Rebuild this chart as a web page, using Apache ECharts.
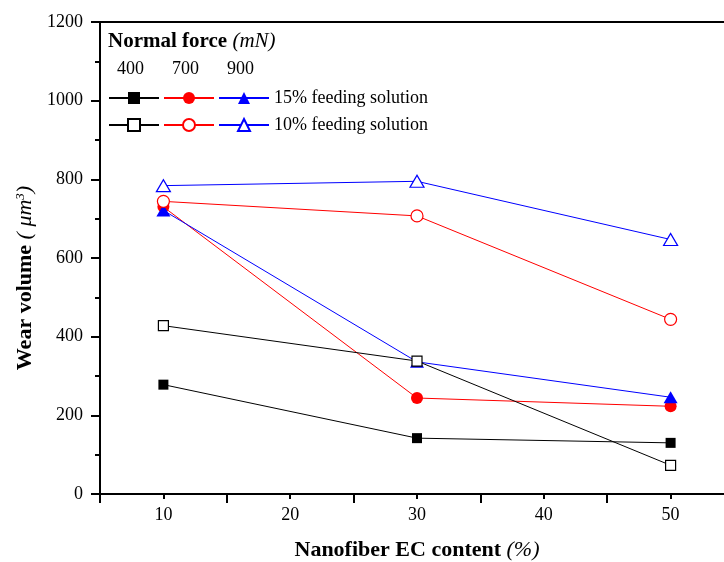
<!DOCTYPE html>
<html>
<head>
<meta charset="utf-8">
<title>Wear volume vs nanofiber EC content</title>
<script src="https://cdn.jsdelivr.net/npm/echarts@6/dist/echarts.min.js"></script>
<style>
  html, body { margin: 0; padding: 0; background: #fff; }
  #chart { width: 724px; height: 562px; }
</style>
</head>
<body>
<div id="chart"></div>
<script>
// Nanofiber EC content (%)
const ecContent = [10, 30, 50];

// Wear volume (µm³), 15% feeding solution
const wear400_15 = [278, 142, 130];
const wear700_15 = [730, 244, 223];
const wear900_15 = [721, 336, 246];

// Wear volume (µm³), 10% feeding solution
const wear400_10 = [428, 338, 73];
const wear700_10 = [744, 707, 444];
const wear900_10 = [784, 795, 647];

const forceLabels = ['400', '700', '900'];
const feedLabels = ['15% feeding solution', '10% feeding solution'];
const xTickValues = [10, 20, 30, 40, 50];

const FONT = '"Liberation Serif", "Times New Roman", serif';

function pairs(ys) {
  return ecContent.map((x, i) => [x, ys[i]]);
}

function makeSeries(name, ys, color, symbol, size, open) {
  return {
    name: name,
    type: 'line',
    data: pairs(ys),
    symbol: symbol,
    symbolSize: size,
    showSymbol: true,
    lineStyle: { color: color, width: 1 },
    itemStyle: open
      ? { color: '#ffffff', borderColor: color, borderWidth: 1.2 }
      : { color: color, borderColor: color, borderWidth: 0 },
    emphasis: { disabled: true },
    animation: false
  };
}

const seriesList = [
  makeSeries('400 mN / 15%', wear400_15, '#000000', 'rect', 10, false),
  makeSeries('700 mN / 15%', wear700_15, '#ff0000', 'circle', 12, false),
  makeSeries('900 mN / 15%', wear900_15, '#0000ff', 'triangle', [14, 12], false),
  makeSeries('400 mN / 10%', wear400_10, '#000000', 'rect', 10, true),
  makeSeries('700 mN / 10%', wear700_10, '#ff0000', 'circle', 12, true),
  makeSeries('900 mN / 10%', wear900_10, '#0000ff', 'triangle', [14, 12], true)
];

const legendText = {
  '900 mN / 15%': feedLabels[0],
  '900 mN / 10%': feedLabels[1]
};

function legendRow(names, top) {
  return {
    data: names,
    left: 108,
    top: top,
    orient: 'horizontal',
    itemWidth: 50,
    itemHeight: 15,
    itemGap: 3,
    padding: 0,
    selectedMode: false,
    formatter: n => legendText[n] || '',
    textStyle: { fontFamily: FONT, fontSize: 18, color: '#000' }
  };
}

const chart = echarts.init(document.getElementById('chart'), null, { renderer: 'canvas' });

chart.setOption({
  backgroundColor: '#ffffff',
  animation: false,
  title: {
    left: 108,
    top: 31,
    padding: 0,
    text: '{b|Normal force }{i|(mN)}',
    textStyle: {
      rich: {
        b: { fontFamily: FONT, fontSize: 21, fontWeight: 'bold', color: '#000' },
        i: { fontFamily: FONT, fontSize: 21, fontStyle: 'italic', fontWeight: 'normal', color: '#000' }
      }
    }
  },
  graphic: forceLabels.map((t, i) => ({
    type: 'text',
    left: [117, 172, 227][i],
    top: 60,
    style: { text: t, font: '18px ' + FONT, fill: '#000' }
  })),
  legend: [
    legendRow(seriesList.slice(0, 3).map(s => s.name), 89),
    legendRow(seriesList.slice(3).map(s => s.name), 116)
  ],
  grid: {
    left: 100,
    top: 22,
    width: 634,
    height: 472,
    show: true,
    borderColor: '#000',
    borderWidth: 2,
    containLabel: false,
    outerBoundsMode: 'none'
  },
  xAxis: {
    type: 'value',
    min: 5,
    max: 55,
    interval: 10,
    name: '{b|Nanofiber EC content }{i|(%)}',
    nameLocation: 'middle',
    nameGap: 45,
    nameTextStyle: {
      rich: {
        b: { fontFamily: FONT, fontSize: 22, fontWeight: 'bold', color: '#000' },
        i: { fontFamily: FONT, fontSize: 22, fontStyle: 'italic', fontWeight: 'normal', color: '#000' }
      }
    },
    axisLine: { show: true, lineStyle: { color: '#000', width: 2 } },
    axisTick: { show: true, length: 9, lineStyle: { color: '#000', width: 2 } },
    minorTick: { show: true, splitNumber: 2, length: 5, lineStyle: { color: '#000', width: 2 } },
    axisLabel: {
      margin: 12,
      fontFamily: FONT,
      fontSize: 18,
      color: '#000',
      customValues: xTickValues,
      formatter: v => String(v)
    },
    splitLine: { show: false },
    minorSplitLine: { show: false }
  },
  yAxis: {
    type: 'value',
    min: 0,
    max: 1200,
    interval: 200,
    name: '{b|Wear volume }{i|( μm}{s|3}{i|)}',
    nameLocation: 'middle',
    nameRotate: 90,
    nameGap: 64,
    nameTextStyle: {
      padding: [0, 40, 0, 0],
      rich: {
        b: { fontFamily: FONT, fontSize: 22, fontWeight: 'bold', color: '#000' },
        i: { fontFamily: FONT, fontSize: 22, fontStyle: 'italic', fontWeight: 'normal', color: '#000' },
        s: { fontFamily: FONT, fontSize: 13, fontStyle: 'italic', fontWeight: 'normal', color: '#000', verticalAlign: 'top' }
      }
    },
    axisLine: { show: true, lineStyle: { color: '#000', width: 2 } },
    axisTick: { show: true, length: 9, lineStyle: { color: '#000', width: 2 } },
    minorTick: { show: true, splitNumber: 2, length: 5, lineStyle: { color: '#000', width: 2 } },
    axisLabel: { margin: 17, fontFamily: FONT, fontSize: 18, color: '#000', formatter: v => String(v) },
    splitLine: { show: false },
    minorSplitLine: { show: false }
  },
  series: seriesList
});
</script>
</body>
</html>
